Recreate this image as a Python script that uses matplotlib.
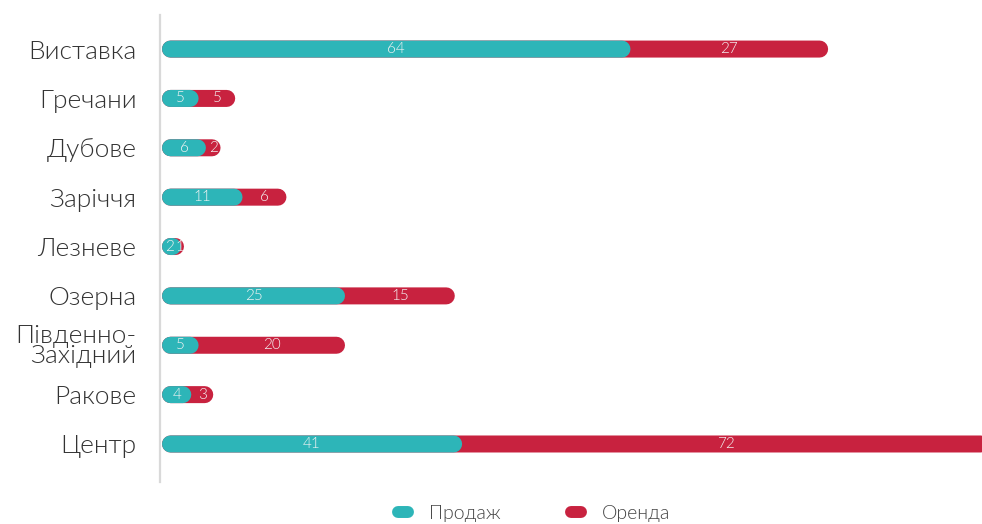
import matplotlib.pyplot as plt
from matplotlib.lines import Line2D

districts = ['Виставка', 'Гречани', 'Дубове', 'Заріччя', 'Лезневе', 'Озерна',
             'Південно-\nЗахідний', 'Ракове', 'Центр']
sale = [64, 5, 6, 11, 2, 25, 5, 4, 41]
rent = [27, 5, 2, 6, 1, 15, 20, 3, 72]

teal = '#2db5b8'
red = '#c8223f'
plt.rcParams['font.family'] = ['Lato', 'DejaVu Sans']

W, H = 982, 524
fig = plt.figure(figsize=(W / 100, H / 100), dpi=100)
# axes box in pixels: left spine at x=160, y from 15 to 482
ax = fig.add_axes([160 / W, 1 - 482 / H, 1 - 160 / W, (482 - 15) / H])

px_per_unit = 7.32
x0 = -2 / px_per_unit
ax.set_xlim(x0, x0 + (W - 160) / px_per_unit)
ax.set_ylim(8.77, -0.69)

bar_px = 17
lw = bar_px * 72 / 100
r = bar_px / 2 / px_per_unit  # cap radius in data units

def pill(y, a, b, color):
    # thick line with round caps, ends pulled in so the caps land on a and b
    left = a + r
    right = max(b - r, left + 0.3)
    ax.plot([left, right], [y, y], color=color, lw=lw, solid_capstyle='round',
            snap=False, zorder=3)

for i, (s, o) in enumerate(zip(sale, rent)):
    pill(i, 0, s + o, red)
    pill(i, 0, s, teal)
    ax.text(s / 2, i, str(s), ha='center', va='center', color='#f4f4f4',
            fontsize=11, fontweight=300, zorder=5)
    ax.text(s + o / 2, i, str(o), ha='center', va='center', color='#f4f4f4',
            fontsize=11, fontweight=300, zorder=5)

ax.set_yticks(range(len(districts)))
ax.set_yticklabels(districts, fontsize=19, fontweight=300, color='#333333',
                   linespacing=0.8)
ax.tick_params(axis='y', length=0, pad=17)
ax.set_xticks([])
for side in ['top', 'right', 'bottom']:
    ax.spines[side].set_visible(False)
ax.spines['left'].set_color('#d9d9d9')
ax.spines['left'].set_linewidth(1.6)

handles = [Line2D([], [], color=teal, lw=8.6, solid_capstyle='round'),
           Line2D([], [], color=red, lw=8.6, solid_capstyle='round')]
fig.legend(handles, ['Продаж', 'Оренда'], loc='lower center', ncol=2,
           frameon=False, handlelength=0.5, columnspacing=3.6, handletextpad=1.1,
           bbox_to_anchor=(0.544, -0.03), labelcolor='#444444',
           prop={'size': 14, 'weight': 300})

fig.savefig('out.png', dpi=100)
